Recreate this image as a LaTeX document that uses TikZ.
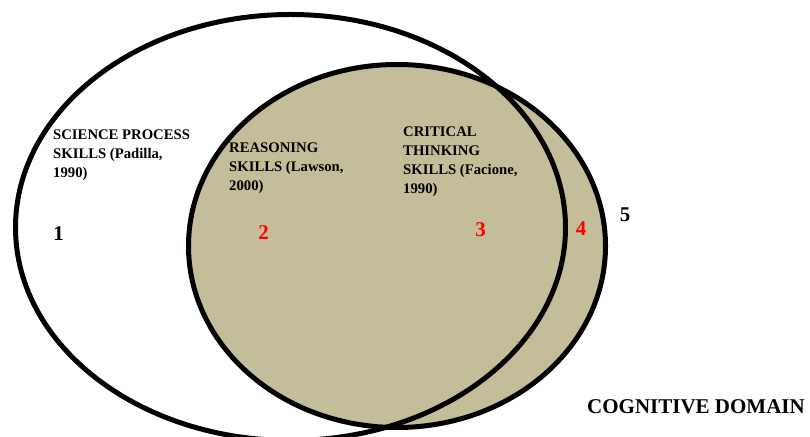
\documentclass[tikz,border=0pt]{standalone}
\usepackage{fontspec}
\setmainfont{Liberation Serif}
\definecolor{tan}{RGB}{196,189,153}
\definecolor{numred}{RGB}{255,0,0}
\tikzset{
  ring/.style={line width=5pt},
  label/.style={font=\bfseries\fontsize{14.7}{19}\selectfont, align=left, anchor=north west, inner sep=0pt},
  num/.style={font=\bfseries\fontsize{21}{24}\selectfont, anchor=base, inner sep=0pt},
  title/.style={font=\bfseries\fontsize{21}{24}\selectfont, anchor=base, inner sep=0pt}
}
\begin{document}
\begin{tikzpicture}[x=1pt,y=1pt]
\useasboundingbox (0,0) rectangle (810,436);
\clip (0,0) rectangle (810,436);
\fill[white] (0,0) rectangle (810,436);
% fills
\fill[white] (290.5,208.5) ellipse [x radius=275, y radius=213];
\fill[tan] (397,190) ellipse [x radius=208.5, y radius=181.5];
% outlines
\draw[ring] (290.5,208.5) ellipse [x radius=275, y radius=213];
\draw[ring] (397,190) ellipse [x radius=208.5, y radius=181.5];
% texts
\node[label] (sps) at (53,306.9) {SCIENCE PROCESS\\SKILLS (Padilla,\\1990)};
\node[label] (rs) at (229,293.9) {REASONING\\SKILLS (Lawson,\\2000)};
\node[label] (cts) at (403,309.9) {CRITICAL\\THINKING\\SKILLS (Facione,\\1990)};
\node[num] (n1) at (58.5,195) {1};
\node[num, text=numred] (n2) at (263.5,196) {2};
\node[num, text=numred] (n3) at (480.5,199) {3};
\node[num, text=numred] (n4) at (581,200) {4};
\node[num] (n5) at (625,214) {5};
\node[title] (cd) at (696,23) {COGNITIVE DOMAIN};
\end{tikzpicture}
\end{document}
